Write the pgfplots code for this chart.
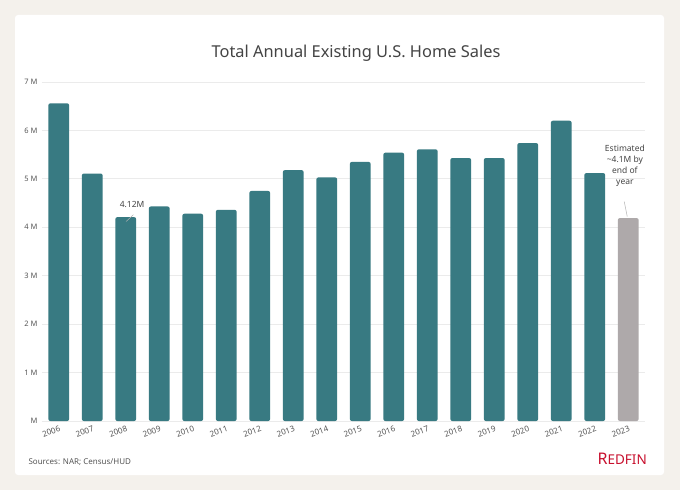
\documentclass[border=0pt]{standalone}
\usepackage{pgfplots}
\pgfplotsset{compat=1.18}
\usepackage{fontspec}
\setmainfont{Noto Sans}
\definecolor{bgcol}{HTML}{F4F1EC}
\definecolor{teal}{HTML}{387A82}
\definecolor{graybar}{HTML}{AEA9AA}
\definecolor{gridc}{HTML}{EBEBEB}
\definecolor{txt}{HTML}{555555}
\definecolor{titlec}{HTML}{444444}
\definecolor{redfin}{HTML}{C8102E}
\begin{document}
\begin{tikzpicture}[x=1pt,y=1pt]
\fill[bgcol] (0,0) rectangle (680,490);
\fill[white, rounded corners=3pt] (15,15) rectangle (664,475);
\node[font=\fontsize{16.4}{19}\selectfont, text=titlec] at (356,437) {Total Annual Existing U.S. Home Sales};
\begin{axis}[
  at={(42pt,69pt)}, anchor=south west,
  scale only axis, width=603pt, height=339pt,
  xmin=-0.5, xmax=17.5, ymin=0, ymax=7,
  axis line style={draw=none},
  major tick length=0pt,
  ymajorgrids, grid style={gridc, line width=0.8pt},
  ytick={0,1,...,7},
  yticklabels={M,1 M,2 M,3 M,4 M,5 M,6 M,7 M},
  yticklabel style={font=\fontsize{7.5}{9}\selectfont, text=txt, anchor=east, xshift=-1pt},
  xtick={0,1,...,17},
  xticklabels={2006,2007,2008,2009,2010,2011,2012,2013,2014,2015,2016,2017,2018,2019,2020,2021,2022,2023},
  xticklabel style={font=\fontsize{8}{9}\selectfont, text=txt, rotate=20, anchor=north east, yshift=-1pt, xshift=2pt},
  ybar, bar width=20.8pt,
  clip=false,
]
\addplot[fill=teal, draw=none, bar shift=0pt, rounded corners=2pt] coordinates {
(0,6.56) (1,5.11) (2,4.21) (3,4.43) (4,4.28) (5,4.36) (6,4.75) (7,5.18) (8,5.03)
(9,5.35) (10,5.54) (11,5.61) (12,5.43) (13,5.43) (14,5.74) (15,6.20) (16,5.12)};
\addplot[fill=graybar, draw=none, bar shift=0pt, rounded corners=2pt] coordinates {(17,4.19)};
\draw[gray!60, line width=0.5pt] (axis cs:2.01,4.12) -- (axis cs:2.23,4.26);
\node[font=\fontsize{8.5}{10}\selectfont, text=titlec] at (axis cs:2.19,4.48) {4.12M};
\draw[gray!60, line width=0.5pt] (axis cs:16.88,4.53) -- (axis cs:16.97,4.22);
\node[font=\fontsize{8.5}{11}\selectfont, text=titlec, align=center] at (axis cs:16.9,5.27) {Estimated\\\textasciitilde4.1M by\\end of\\year};
\end{axis}
\node[anchor=west, font=\fontsize{8}{10}\selectfont, text=txt] at (25,28) {Sources: NAR; Census/HUD};
\node[anchor=base east, inner sep=0pt, text=redfin, font=\bfseries] at (647,26) {\fontsize{16}{16}\selectfont R\fontsize{13.5}{14}\selectfont EDFIN};
\end{tikzpicture}
\end{document}
